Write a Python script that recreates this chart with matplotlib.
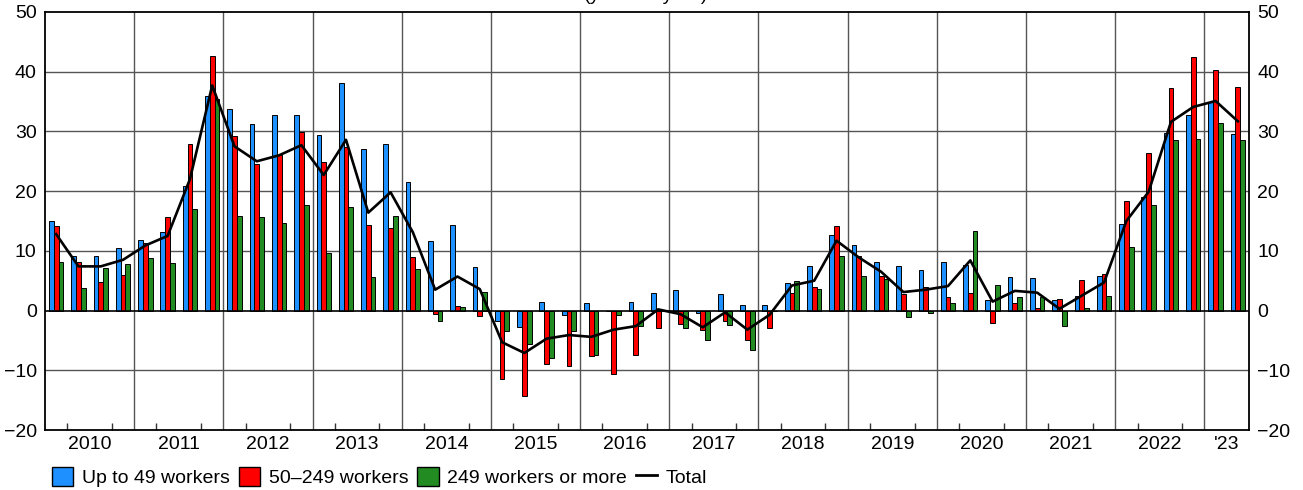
import matplotlib
matplotlib.use("Agg")
import matplotlib.pyplot as plt
from matplotlib.patches import Patch
from matplotlib.lines import Line2D
from matplotlib.legend_handler import HandlerLine2D
from matplotlib.ticker import FixedLocator, NullFormatter
import numpy as np

plt.rcParams['font.family'] = ['Liberation Sans', 'DejaVu Sans']

years = ['2010', '2011', '2012', '2013', '2014', '2015', '2016', '2017',
         '2018', '2019', '2020', '2021', '2022', "'23"]
quarters_per_year = [4, 4, 4, 4, 4, 4, 4, 4, 4, 4, 4, 4, 4, 2]

small = [15.0, 9.2, 9.1, 10.4,
         11.8, 13.2, 20.9, 35.9,
         33.7, 31.3, 32.8, 32.7,
         29.4, 38.1, 27.1, 27.9,
         21.5, 11.7, 14.4, 7.3,
         -1.8, -2.7, 1.5, -0.7,
         1.2, -0.1, 1.5, 3.0,
         3.5, -0.4, 2.7, 0.9,
         0.9, 4.7, 7.5, 12.6,
         11.0, 8.2, 7.4, 6.8,
         8.2, 7.7, 1.8, 5.7,
         5.4, 1.8, 2.5, 5.8,
         14.5, 19.0, 29.8, 32.8,
         35.0, 29.6]

medium = [14.2, 8.1, 4.8, 6.0,
          11.3, 15.6, 27.9, 42.7,
          29.2, 24.5, 26.0, 29.9,
          24.9, 27.4, 14.4, 13.9,
          9.0, -0.6, 0.8, -0.9,
          -11.5, -14.3, -8.9, -9.2,
          -7.6, -10.7, -7.5, -2.9,
          -2.2, -3.2, -1.7, -4.9,
          -3.0, 3.0, 4.0, 14.1,
          9.1, 5.8, 2.7, 4.0,
          2.3, 2.9, -2.0, 1.3,
          0.4, 2.0, 5.2, 6.1,
          18.3, 26.4, 37.2, 42.4,
          40.3, 37.5]

large = [8.2, 3.8, 7.2, 7.8,
         8.8, 7.9, 17.0, 35.5,
         15.9, 15.7, 14.7, 17.7,
         9.7, 17.4, 5.6, 15.9,
         7.0, -1.8, 0.6, 3.1,
         -3.5, -5.6, -7.9, -3.5,
         -7.5, -0.7, -2.6, 0.0,
         -3.0, -4.9, -2.4, -6.6,
         0.0, 5.0, 3.6, 9.2,
         5.8, 5.3, -1.1, -0.4,
         1.3, 13.4, 4.2, 2.3,
         2.2, -2.6, 0.4, 2.5,
         10.7, 17.6, 28.5, 28.7,
         31.4, 28.5]

total = [12.8, 7.4, 7.4, 8.5,
         10.9, 12.5, 22.0, 37.7,
         27.5, 25.0, 26.0, 27.7,
         22.7, 28.6, 16.4, 19.8,
         13.1, 3.5, 5.7, 3.6,
         -5.3, -7.1, -4.7, -4.1,
         -4.4, -3.2, -2.6, 0.2,
         -0.6, -2.8, -0.3, -3.2,
         -0.7, 4.2, 5.0, 11.7,
         8.9, 6.5, 3.1, 3.5,
         4.1, 8.4, 1.5, 3.3,
         3.0, 0.3, 2.5, 4.7,
         15.0, 19.9, 31.6, 34.1,
         35.1, 31.7]

series_labels = ['Up to 49 workers', '50\u2013249 workers', '249 workers or more', 'Total']
colors = ['#1E90FF', '#FF0000', '#228B22', '#000000']

W, H = 1303, 490
fig = plt.figure(figsize=(W / 100, H / 100), dpi=100)
ax = fig.add_axes([45 / W, (H - 430) / H, (1249 - 45) / W, (430 - 12) / H])

n = len(total)
x = np.arange(n)
bw = 0.215
for vals, off, col in zip([small, medium, large], [-bw, 0, bw], colors[:3]):
    ax.bar(x + off, vals, width=bw, color=col, edgecolor='black', linewidth=0.7, zorder=3)
ax.plot(x, total, color='black', linewidth=1.9, zorder=4)

ax.set_xlim(-0.5, n - 0.5)
ax.set_ylim(-20, 50)

# grid
for yv in range(-10, 50, 10):
    ax.axhline(yv, color='black' if yv == 0 else '#555555', linewidth=1.0 if yv else 1.2,
               zorder=1 if yv else 3.5)
bounds = np.cumsum(quarters_per_year)[:-1] - 0.5
for b in bounds:
    ax.axvline(b, color='#555555', linewidth=1.0, zorder=1)

# x ticks
starts = np.concatenate([[0], np.cumsum(quarters_per_year)[:-1]])
centers = starts + (np.array(quarters_per_year) - 1) / 2
ax.set_xticks(centers)
ax.set_xticklabels(years, fontsize=14)
ax.tick_params(axis='x', which='major', length=0, pad=4)
minor = [s - 0.5 + q for s, qn in zip(starts, quarters_per_year) for q in range(1, qn)]
ax.xaxis.set_minor_locator(FixedLocator(minor))
ax.xaxis.set_minor_formatter(NullFormatter())
ax.tick_params(axis='x', which='minor', direction='in', length=5, width=1, color='#333333',
               bottom=True, top=False)

# y ticks both sides
ax.set_yticks(range(-20, 51, 10))
ax.tick_params(axis='y', which='major', length=0, labelsize=14, pad=6,
               left=False, right=False, labelleft=True, labelright=True)
for sp in ax.spines.values():
    sp.set_linewidth(1.3)
    sp.set_color('black')
    sp.set_zorder(5)

fig.text(0.496, 0.999, '(year-on-year)', ha='center', va='baseline', fontsize=14)


class ShortLine(HandlerLine2D):
    def create_artists(self, legend, orig_handle, xdescent, ydescent, width, height, fontsize, trans):
        artists = super().create_artists(legend, orig_handle, xdescent, ydescent, width, height,
                                         fontsize, trans)
        for a in artists:
            if isinstance(a, Line2D) and len(a.get_xdata()) == 2:
                xd = np.asarray(a.get_xdata(), dtype=float)
                a.set_xdata([xd[0] + 0.35 * width, xd[1] + 0.1 * width])
        return artists


handles = [Patch(facecolor=c, edgecolor='black', linewidth=1.0) for c in colors[:3]]
line_handle = Line2D([0], [0], color='black', linewidth=2)
handles.append(line_handle)
fig.legend(handles, series_labels, loc='center left', bbox_to_anchor=(52 / W, 1 - 477 / H),
           ncol=4, frameon=False, fontsize=14, handlelength=1.1, handleheight=1.1,
           handletextpad=0.45, columnspacing=0.45, borderaxespad=0, borderpad=0,
           handler_map={line_handle: ShortLine()})

fig.savefig('out.png', dpi=100)
